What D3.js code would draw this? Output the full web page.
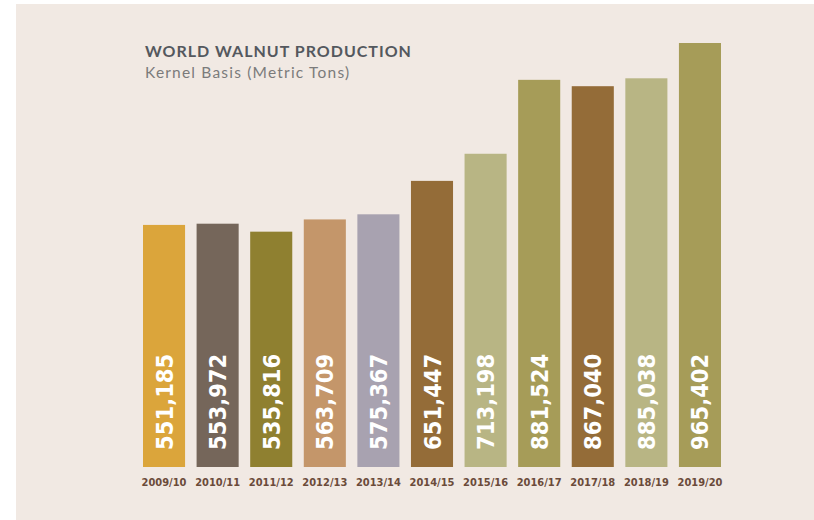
<!DOCTYPE html>
<html>
<head>
<meta charset="utf-8">
<script src="https://cdn.jsdelivr.net/npm/d3@7"></script>
<style>
  html, body { margin: 0; padding: 0; background: #fff; }
  svg { display: block; }
</style>
</head>
<body>
<div id="chart"></div>
<script>
// crop years and production (kernel basis, metric tons)
const years = ['2009/10', '2010/11', '2011/12', '2012/13', '2013/14', '2014/15',
               '2015/16', '2016/17', '2017/18', '2018/19', '2019/20'];
const production = [551185, 553972, 535816, 563709, 575367, 651447,
                    713198, 881524, 867040, 885038, 965402];
const barColors = ['#dba53b', '#75665a', '#8f8030', '#c4966a', '#a8a2b0', '#946c38',
                   '#b8b584', '#a69c58', '#946c38', '#b8b584', '#a69c58'];

const width = 814;
const height = 520;

const svg = d3.select('#chart')
  .append('svg')
  .attr('width', width)
  .attr('height', height);

// panel background (picture has a thin white edge top/left)
svg.append('rect')
  .attr('x', 16)
  .attr('y', 4)
  .attr('width', width - 16)
  .attr('height', height - 4)
  .attr('fill', '#f1e9e3');

const x = d3.scaleBand()
  .domain(years)
  .range([143, 721])
  .paddingInner(0.215)
  .paddingOuter(0);

const y = d3.scaleLinear()
  .domain([0, d3.max(production)])
  .range([467, 43]);

const data = years.map((yr, i) => ({ year: yr, value: production[i], color: barColors[i] }));

svg.append('g')
  .selectAll('rect')
  .data(data)
  .join('rect')
  .attr('x', d => x(d.year))
  .attr('y', d => y(d.value))
  .attr('width', x.bandwidth())
  .attr('height', d => y(0) - y(d.value))
  .attr('fill', d => d.color);

// vertical value labels inside bars
const fmt = d3.format(',');
svg.append('g')
  .selectAll('text')
  .data(data)
  .join('text')
  .attr('transform', d => `translate(${x(d.year) + x.bandwidth() / 2 + 8.5},${y(0) - 17}) rotate(-90)`)
  .attr('font-family', '"DejaVu Sans Condensed", "DejaVu Sans", sans-serif')
  .attr('font-stretch', 'condensed')
  .attr('font-weight', 'bold')
  .attr('font-size', 23.5)
  .attr('fill', '#ffffff')
  .text(d => fmt(d.value));

// year labels under bars
const xAxis = svg.append('g')
  .attr('transform', `translate(0,${y(0)})`)
  .call(d3.axisBottom(x).tickSize(0).tickPadding(11));
xAxis.select('.domain').remove();
xAxis.selectAll('text')
  .attr('font-family', '"DejaVu Sans Condensed", "DejaVu Sans", sans-serif')
  .attr('font-stretch', 'condensed')
  .attr('font-weight', 'bold')
  .attr('font-size', 11)
  .attr('fill', '#6b4b3a');

// titles
svg.append('text')
  .attr('x', 145)
  .attr('y', 57)
  .attr('font-family', 'Lato, "Open Sans", sans-serif')
  .attr('font-weight', 'bold')
  .attr('font-size', 16)
  .attr('letter-spacing', 1)
  .attr('fill', '#54585e')
  .text('WORLD WALNUT PRODUCTION');

svg.append('text')
  .attr('x', 145)
  .attr('y', 78)
  .attr('font-family', 'Lato, "Open Sans", sans-serif')
  .attr('font-size', 15.5)
  .attr('letter-spacing', 1.2)
  .attr('fill', '#7b7b7b')
  .text('Kernel Basis (Metric Tons)');
</script>
</body>
</html>
